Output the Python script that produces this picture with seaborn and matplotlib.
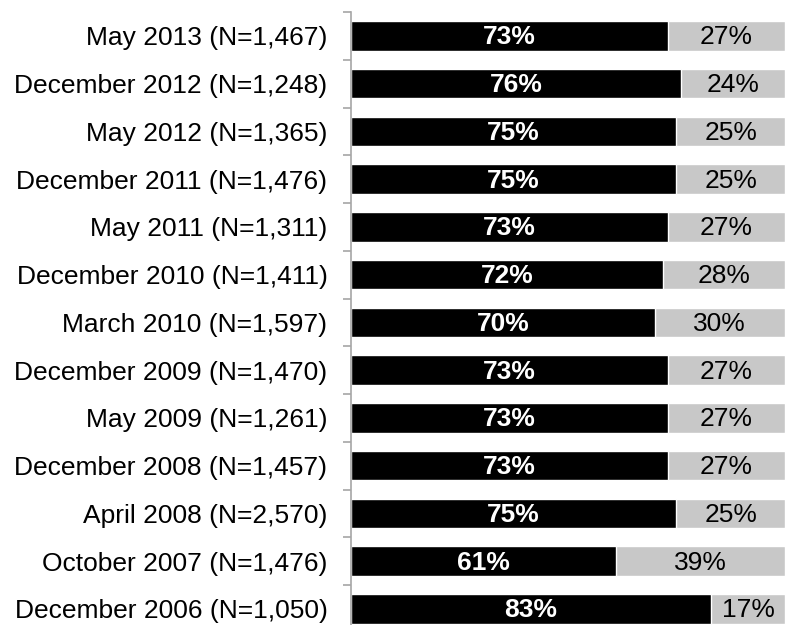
import matplotlib
matplotlib.use('Agg')
import matplotlib.pyplot as plt
import numpy as np
import pandas as pd
import seaborn as sns

surveys = ['May 2013 (N=1,467)', 'December 2012 (N=1,248)', 'May 2012 (N=1,365)',
           'December 2011 (N=1,476)', 'May 2011 (N=1,311)', 'December 2010 (N=1,411)',
           'March 2010 (N=1,597)', 'December 2009 (N=1,470)', 'May 2009 (N=1,261)',
           'December 2008 (N=1,457)', 'April 2008 (N=2,570)', 'October 2007 (N=1,476)',
           'December 2006 (N=1,050)']
black_pct = [73, 76, 75, 75, 73, 72, 70, 73, 73, 73, 75, 61, 83]
gray_pct = [27, 24, 25, 25, 27, 28, 30, 27, 27, 27, 25, 39, 17]

df = pd.DataFrame({'Survey': surveys, 'Black': black_pct, 'Gray': gray_pct})
df['Total'] = df['Black'] + df['Gray']

sns.set_style('white')
plt.rcParams['font.family'] = ['Liberation Sans', 'DejaVu Sans']

fig = plt.figure(figsize=(7.96, 6.25), dpi=100)
ax = fig.add_axes([0.441, -0.0124, 0.545, 0.9932])

bar_w = 0.62
sns.barplot(data=df, x='Total', y='Survey', orient='h', color='#c8c8c8',
            width=bar_w, saturation=1, ax=ax)
sns.barplot(data=df, x='Black', y='Survey', orient='h', color='black',
            width=bar_w, saturation=1, ax=ax)

fs = 19
for i, (b, g) in enumerate(zip(black_pct, gray_pct)):
    ax.text(b / 2, i + 0.03, f'{b}%', ha='center', va='center', color='white',
            fontsize=fs, fontweight='bold')
    ax.text(b + g / 2, i + 0.03, f'{g}%', ha='center', va='center', color='black',
            fontsize=fs)

ax.set_xlim(0, 100)
ax.set_ylim(len(surveys) - 0.5, -0.5)
ax.set_xlabel('')
ax.set_ylabel('')
ax.set_xticks([])

for s in ['top', 'right', 'bottom']:
    ax.spines[s].set_visible(False)
ax.spines['left'].set_color('#a6a6a6')
ax.spines['left'].set_linewidth(1.2)

ax.tick_params(axis='y', which='major', length=0, pad=17, labelsize=fs,
               labelcolor='black')
ax.set_yticks(np.arange(-0.5, len(surveys), 1.0), minor=True)
ax.tick_params(axis='y', which='minor', left=True, length=6, width=1.2,
               color='#a6a6a6', direction='out')

fig.savefig('out.png', dpi=100)
